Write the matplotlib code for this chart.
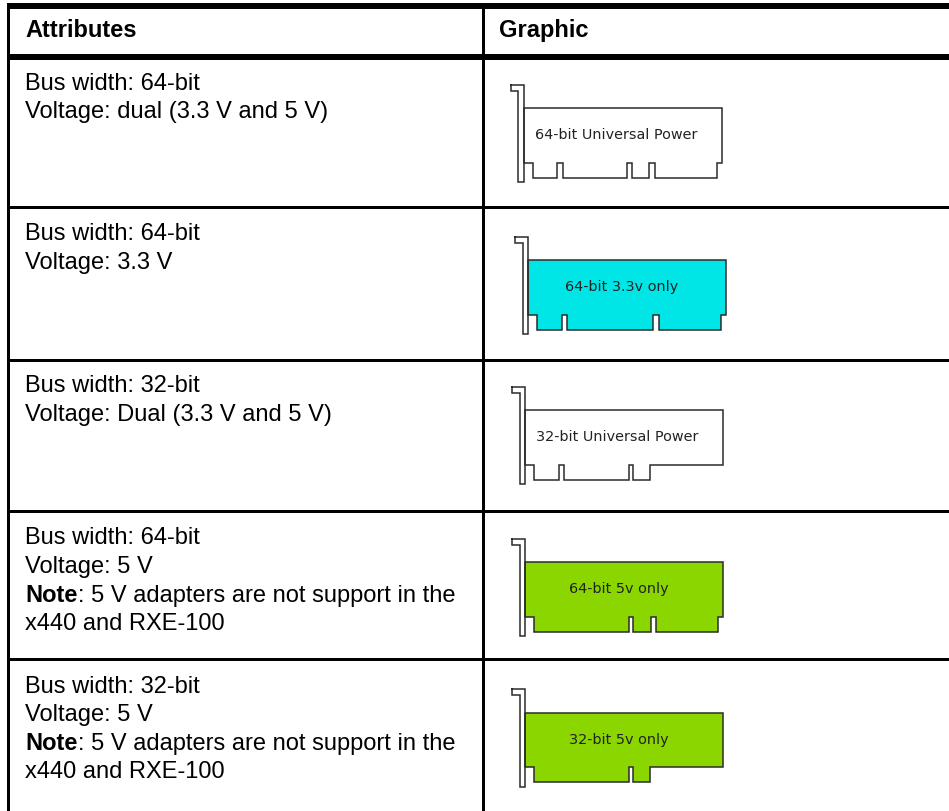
import matplotlib
matplotlib.use("Agg")
import matplotlib.pyplot as plt

W, H = 949, 812
plt.rcParams["font.family"] = ["Liberation Sans", "DejaVu Sans"]

# table text
headers = ["Attributes", "Graphic"]
row_lines = [
    ["Bus width: 64-bit", "Voltage: dual (3.3 V and 5 V)"],
    ["Bus width: 64-bit", "Voltage: 3.3 V"],
    ["Bus width: 32-bit", "Voltage: Dual (3.3 V and 5 V)"],
    ["Bus width: 64-bit", "Voltage: 5 V", "Note|: 5 V adapters are not support in the", "x440 and RXE-100"],
    ["Bus width: 32-bit", "Voltage: 5 V", "Note|: 5 V adapters are not support in the", "x440 and RXE-100"],
]
row_first_base = [89.5, 240.5, 392.5, 544.5, 692.7]

# table rules, pixels
rule_h = [(4, 10), (55, 61), (206.7, 209.5), (360, 362.8), (511.3, 514), (659, 662)]

# adapter cards
card_labels = ["64-bit Universal Power", "64-bit 3.3v only", "32-bit Universal Power", "64-bit 5v only", "32-bit 5v only"]
card_x = [524, 528.3, 525.3, 525.3, 525.3]
card_y = [109.3, 261.3, 411.3, 563.3, 713.7]
card_fill = ["white", "#00E6E6", "white", "#8CD600", "#8CD600"]
card_notches = [
    [(33, 38.7), (103, 108.3), (125, 131.3)],
    [(33.3, 38.3), (124.3, 130.7)],
    [(33.3, 38.3), (103.3, 107.7)],
    [(103.7, 108), (125.3, 131)],
    [(103.7, 108)],
]
card_bottom_end = [193.3, 192.3, 125, 193, 125]
card_label_dx = [11, 36.7, 10.7, 43.7, 43.7]

BODY_W = 197.7
SHOULDER = 54.3
DEPTH = 15.3
EDGE = "#2b2b2b"

fig = plt.figure(figsize=(W / 100, H / 100), dpi=100)
ax = fig.add_axes([0, 0, 1, 1])
ax.set_xlim(0, W)
ax.set_ylim(H, 0)
ax.axis("off")


def draw_card(x, y, fill, notches, end):
    # bracket on the left
    bx = [x - 13.3, x, x, x - 5.7, x - 5.7, x - 13.3, x - 13.3]
    by = [y - 23.3, y - 23.3, y + 74, y + 74, y - 17.6, y - 17.6, y - 23.3]
    ax.plot(bx, by, color=EDGE, lw=1.1, solid_joinstyle="miter")

    sy = y + SHOULDER
    by2 = sy + DEPTH
    px = [x, x + BODY_W, x + BODY_W, x + end, x + end]
    py = [y, y, sy, sy, by2]
    for a, b in reversed(notches):
        px += [x + b, x + b, x + a, x + a]
        py += [by2, sy, sy, by2]
    px += [x + 9, x + 9, x]
    py += [by2, sy, sy]
    ax.fill(px, py, facecolor=fill, edgecolor=EDGE, lw=1.1, joinstyle="miter")


for yy in rule_h:
    ax.fill_between([7, W], yy[0], yy[1], color="black", lw=0)
ax.fill_between([7, 10], 4, H, color="black", lw=0)
ax.fill_between([482, 485], 4, H, color="black", lw=0)

FS = 17
ax.text(25, 37.3, headers[0], fontsize=FS, fontweight="bold", va="baseline", color="black")
ax.text(499, 37.3, headers[1], fontsize=FS, fontweight="bold", va="baseline", color="black")

fig.canvas.draw()
rend = fig.canvas.get_renderer()
for lines, base in zip(row_lines, row_first_base):
    for i, line in enumerate(lines):
        y = base + i * 28.6
        if "|" in line:
            bold, rest = line.split("|")
            t = ax.text(25, y, bold, fontsize=FS, fontweight="bold", va="baseline", color="black")
            ax.text(25 + t.get_window_extent(rend).width + 1, y, rest, fontsize=FS, va="baseline", color="black")
        else:
            ax.text(25, y, line, fontsize=FS, va="baseline", color="black")

for i in range(len(card_labels)):
    draw_card(card_x[i], card_y[i], card_fill[i], card_notches[i], card_bottom_end[i])
    ax.text(card_x[i] + card_label_dx[i], card_y[i] + 30, card_labels[i], fontsize=10.4,
            family="DejaVu Sans", va="baseline", color="#222222")

fig.savefig("out.png", dpi=100)
